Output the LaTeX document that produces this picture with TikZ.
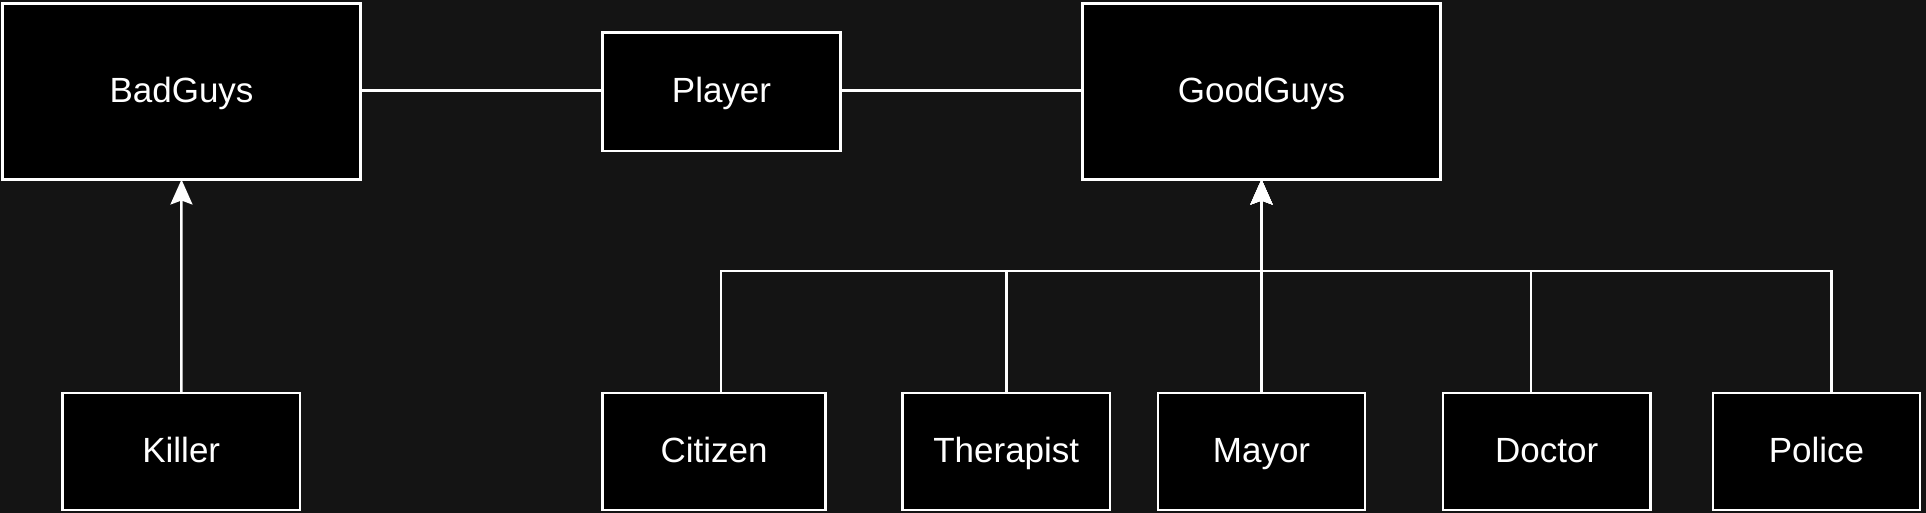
\documentclass[tikz,border=0pt]{standalone}
\usepackage{fontspec}
\setmainfont{Liberation Sans}
\usetikzlibrary{arrows.meta,calc}
\definecolor{bgc}{HTML}{141414}
\tikzset{
  box/.style={draw=white, fill=black, line width=2.5pt, inner sep=0pt, outer sep=0pt,
    text=white, font=\fontsize{35}{40}\selectfont, text height=25pt, text depth=3pt, anchor=center},
  link/.style={draw=white, line width=2.5pt},
  arr/.style={link, -{Stealth[length=25pt,width=22pt,inset=4pt]}}
}
\begin{document}
\begin{tikzpicture}[x=1pt,y=-1pt]
\fill[bgc] (0,0) rectangle (1926,513);
\useasboundingbox (0,0) rectangle (1926,513);
\node[box, minimum width=358pt, minimum height=176pt] (bad) at (181.5,91.5) {BadGuys};
\node[box, minimum width=238pt, minimum height=118.5pt] (player) at (721.5,91.75) {Player};
\node[box, minimum width=358pt, minimum height=176pt] (good) at (1261.5,91.5) {GoodGuys};
\node[box, minimum width=237.5pt, minimum height=117pt] (killer) at (181.25,451.5) {Killer};
\node[box, minimum width=223pt, minimum height=117pt] (citizen) at (714,451.5) {Citizen};
\node[box, minimum width=207.5pt, minimum height=117pt] (therapist) at (1006.25,451.5) {Therapist};
\node[box, minimum width=207pt, minimum height=117pt] (mayor) at (1261.5,451.5) {Mayor};
\node[box, minimum width=207.5pt, minimum height=117pt] (doctor) at (1546.75,451.5) {Doctor};
\node[box, minimum width=207pt, minimum height=117pt] (police) at (1816.5,451.5) {Police};
\coordinate (bus) at (1261.5,271);
\draw[link] (bad.east |- 0,90.5) -- (player.west |- 0,90.5);
\draw[link] (player.east |- 0,90.5) -- (good.west |- 0,90.5);
\draw[arr] (killer.north) -- (bad.south);
\draw[arr] (mayor.north) -- (good.south);
\draw[arr] ($(citizen.north)+(7,0)$) |- (bus) -- (good.south);
\draw[arr] (therapist.north) |- (bus) -- (good.south);
\draw[arr] ($(doctor.north)+(-15.75,0)$) |- (bus) -- (good.south);
\draw[arr] ($(police.north)+(14.75,0)$) |- (bus) -- (good.south);
\end{tikzpicture}
\end{document}
